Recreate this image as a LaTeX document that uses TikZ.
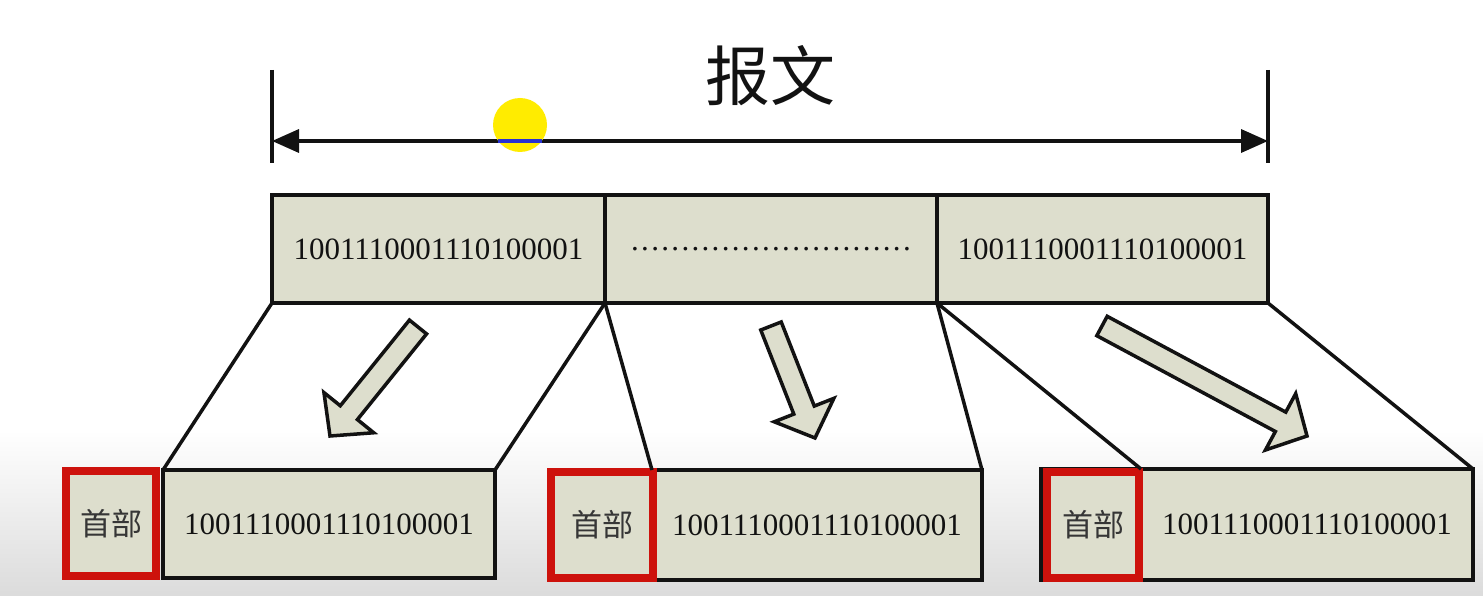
\documentclass[tikz,border=0pt]{standalone}
\usepackage{fontspec}
\setmainfont{Liberation Serif}
\newfontfamily\cjk{Noto Sans CJK SC}
\usetikzlibrary{arrows.meta,calc}
\definecolor{boxfill}{RGB}{221,222,205}
\definecolor{hdrred}{RGB}{205,18,12}
\definecolor{ink}{RGB}{18,18,18}
\definecolor{dotyellow}{RGB}{255,236,0}
\definecolor{chordblue}{RGB}{40,50,210}
% block arrow from tail #1 to tip #2
\newcommand\blockarrow[2]{%
  \coordinate (bT) at #1;
  \coordinate (bP) at #2;
  \coordinate (bB) at ($(bP)!30pt!(bT)$);
  \draw[barrow]
    ($(bT)!11pt!90:(bP)$) -- ($(bB)!11pt!90:(bP)$) -- ($(bB)!32pt!90:(bP)$) --
    (bP) --
    ($(bB)!32pt!-90:(bP)$) -- ($(bB)!11pt!-90:(bP)$) -- ($(bT)!11pt!-90:(bP)$) -- cycle;}
\newcommand\dotrow{\foreach \i in {1,...,27}{.\kern2.32pt}.}
\begin{document}
\begin{tikzpicture}[x=1pt,y=-1pt,
  seg/.style={draw=ink, fill=boxfill, line width=3.5pt, outer sep=0pt, inner sep=0pt,
    minimum height=108pt, font=\fontsize{31pt}{31pt}\selectfont, text=ink},
  hdr/.style={draw=hdrred, fill=boxfill, line width=8pt, outer sep=0pt, inner sep=0pt,
    font=\cjk\fontsize{31pt}{31pt}\selectfont, text=ink!85},
  link/.style={draw=ink, line width=3.5pt},
  barrow/.style={draw=ink, fill=boxfill, line width=3.5pt, line join=miter},
  bracket/.style={draw=ink, line width=3.5pt},
]
\useasboundingbox (0,0) rectangle (1483,596);
\fill[white] (0,0) rectangle (1483,596);
\shade[top color=white, bottom color=black!14] (0,430) rectangle (1483,596);

% title and extent bracket
\node[font=\cjk\fontsize{65pt}{65pt}\selectfont, text=ink] (title) at (770,76) {报文};
\coordinate (bl1) at (272,70); \coordinate (bl2) at (272,163);
\coordinate (br1) at (1268,70); \coordinate (br2) at (1268,163);
\coordinate (al) at (272,141); \coordinate (ar) at (1268,141);
\draw[bracket] (bl1) -- (bl2);
\draw[bracket] (br1) -- (br2);
\draw[bracket, {Triangle[length=27pt,width=23pt]}-{Triangle[length=27pt,width=23pt]}] (al) -- (ar);

% cursor highlight
\fill[dotyellow] (520,125) circle[radius=27];
\fill[chordblue] (498,139.3) rectangle (542,142.7);

% message bar
\node[seg, minimum width=333pt] (s1) at (438.5,249) {1001110001110100001};
\node[seg, minimum width=332pt] (s2) at (771,249) {\dotrow};
\node[seg, minimum width=331pt] (s3) at (1102.5,249) {1001110001110100001};

% bottom packets
\node[seg, minimum width=332pt, minimum height=108pt] (d1) at (329,524) {1001110001110100001};
\node[hdr, minimum width=90pt, minimum height=105pt] (h1) at (111,523.5) {首部};

\node[seg, minimum width=330pt, minimum height=110pt] (d2) at (817,525) {1001110001110100001};
\node[hdr, minimum width=102pt, minimum height=106pt] (h2) at (602,525) {首部};

\node[seg, minimum width=332pt, minimum height=111pt] (d3) at (1307,524.5) {1001110001110100001};
\draw[ink, line width=3.5pt] (d3.north west) -- (1041,469) -- (1041,580) -- (d3.south west);
\node[hdr, minimum width=92pt, minimum height=106pt] (h3) at (1093,525) {首部};

% fan-out lines
\draw[link] (s1.south west) -- (d1.north west);
\draw[link] (s1.south east) -- (d1.north east);
\draw[link] (s2.south west) -- (d2.north west);
\draw[link] (s2.south east) -- (d2.north east);
\draw[link] (s3.south west) -- (d3.north west);
\draw[link] (s3.south east) -- (d3.north east);

% block arrows
\blockarrow{(418,327)}{(330,436)}
\blockarrow{(771,326)}{(815,438)}
\blockarrow{(1102,326)}{(1307,436)}
\end{tikzpicture}
\end{document}
